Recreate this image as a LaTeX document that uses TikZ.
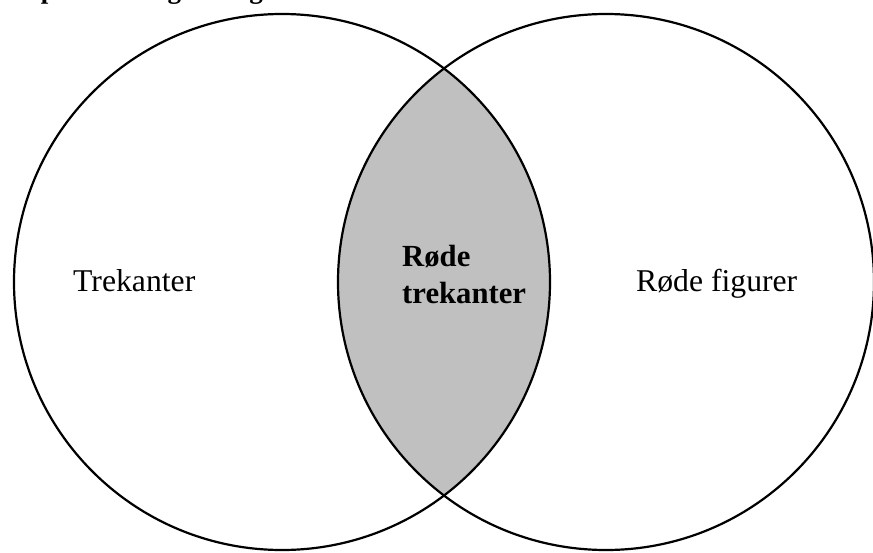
\documentclass[tikz,border=0pt]{standalone}
\usepackage{fontspec}
\setmainfont{Liberation Serif}
\definecolor{lensgray}{RGB}{192,192,192}
\tikzset{
  setcircle/.style={circle, draw=black, line width=2.2pt, minimum size=536pt, inner sep=0pt},
  setlabel/.style={font=\fontsize{31.7}{34}\selectfont, inner sep=0pt, anchor=base west},
  boldlabel/.style={font=\fontsize{30.7}{37}\selectfont\bfseries, inner sep=0pt, align=left, anchor=north west},
  titletext/.style={font=\fontsize{27}{30}\selectfont\bfseries, inner sep=0pt, anchor=base west}
}
\begin{document}
\begin{tikzpicture}[x=1pt,y=-1pt]
  \useasboundingbox (0,0) rectangle (873,552);
  \clip (0,0) rectangle (873,552);
  % lens
  \begin{scope}
    \clip (282,282) circle [radius=268];
    \fill[lensgray] (606,282) circle [radius=268];
  \end{scope}
  \node[setcircle] (setA) at (282,282) {};
  \node[setcircle] (setB) at (606,282) {};
  \node[setlabel] (lblA) at (73,291) {Trekanter};
  \node[setlabel] (lblB) at (636,291) {Røde figurer};
  \node[boldlabel] (lblAB) at (402,245) {Røde\\trekanter};
  \node[titletext] (title) at (7,-1.5) {Se på venndiagram og sæt};
\end{tikzpicture}
\end{document}
